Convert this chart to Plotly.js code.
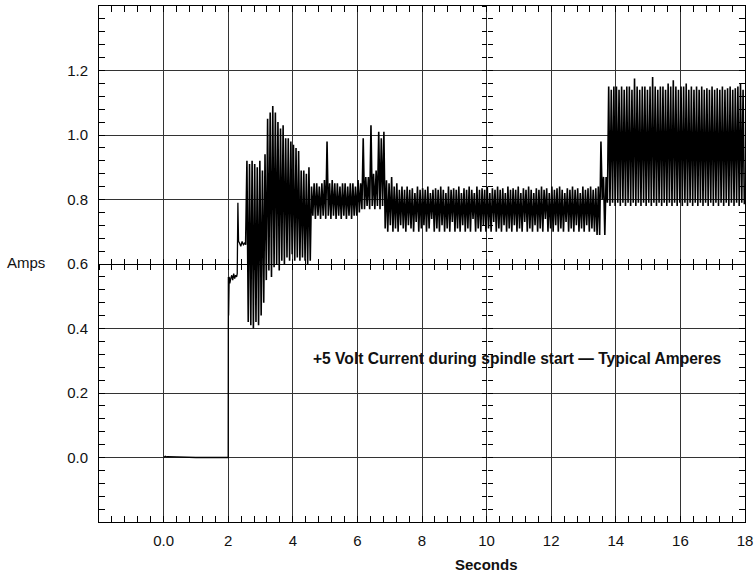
<!DOCTYPE html>
<html>
<head>
<meta charset="utf-8">
<script src="https://cdn.plot.ly/plotly-3.0.1.min.js"></script>
<style>html,body{margin:0;padding:0;background:#fff;}#chart{width:755px;height:575px;}</style>
</head>
<body>
<div id="chart"></div>
<script>
// ---- data ----
// start-up portion (seconds, amps)
const startTime = [0, 0.05, 0.08, 0.12, 1.0, 2.0, 2.005, 2.012, 2.03, 2.05, 2.08, 2.11, 2.14, 2.17, 2.2, 2.23, 2.26, 2.28, 2.30, 2.32, 2.35, 2.39, 2.43, 2.47, 2.51, 2.54];
const startAmps = [0.0, 0.004, 0.002, 0.003, 0.0, 0.0, 0.56, 0.44, 0.56, 0.54, 0.555, 0.565, 0.55, 0.57, 0.555, 0.565, 0.56, 0.57, 0.79, 0.67, 0.665, 0.655, 0.67, 0.66, 0.665, 0.66];

// sampled portion: first sample at sampleStart, one sample every sampleStep seconds
const sampleStart = 2.54;
const sampleStep = 0.04;
const plateauAmps = [0.66];
const rampAmps = [
  0.92,0.42,0.91,0.41,0.92,0.40,0.91,0.42,0.90,0.41,
  0.92,0.44,0.89,0.48,0.94,0.55,1.05,0.58,1.07,0.56,
  1.09,0.59,1.07,0.60,1.04,0.58,1.02,0.61,1.03,0.60,
  0.99,0.62,0.99,0.61,0.98,0.63,0.97,0.61,0.96,0.62,
  0.95,0.61,0.89,0.62,0.89,0.61,0.88,0.60,0.90,0.61];
const settleAmps = [
  0.84,0.75,0.85,0.74,0.85,0.75,0.84,0.74,0.85,0.75,
  0.86,0.74,0.98,0.75,0.85,0.74,0.86,0.75,0.85,0.74,
  0.85,0.75,0.84,0.74,0.85,0.75,0.85,0.74,0.84,0.75,
  0.85,0.74,0.85,0.75,0.84,0.75,0.86,0.76,0.85,0.77,
  0.99,0.77,0.87,0.78,0.87,0.77,1.03,0.78,0.88,0.77,
  0.89,0.78,1.01,0.77,0.99,0.78,1.01];
const steadyAmps = [
  0.71,0.86,0.70,0.85,0.72,0.87,0.70,0.84,0.71,0.85,
  0.70,0.83,0.72,0.84,0.71,0.83,0.70,0.84,0.72,0.83,
  0.71,0.835,0.70,0.82,0.73,0.84,0.70,0.83,0.71,0.835,
  0.72,0.83,0.70,0.84,0.71,0.82,0.74,0.83,0.70,0.835,
  0.71,0.83,0.70,0.84,0.72,0.83,0.70,0.82,0.71,0.84,
  0.70,0.83,0.73,0.835,0.70,0.83,0.71,0.84,0.70,0.82,
  0.72,0.835,0.70,0.83,0.71,0.84,0.70,0.83,0.74,0.82,
  0.70,0.84,0.71,0.83,0.70,0.835,0.72,0.83,0.70,0.84,
  0.71,0.82,0.70,0.835,0.73,0.83,0.70,0.84,0.71,0.83,
  0.70,0.835,0.72,0.82,0.70,0.84,0.71,0.83,0.70,0.835,
  0.72,0.83,0.70,0.84,0.71,0.82,0.70,0.835,0.73,0.83,
  0.70,0.84,0.71,0.83,0.70,0.82,0.72,0.835,0.70,0.83,
  0.71,0.84,0.70,0.83,0.74,0.835,0.70,0.82,0.71,0.84,
  0.70,0.83,0.72,0.835,0.70,0.84,0.71,0.83,0.70,0.82,
  0.73,0.835,0.70,0.83,0.71,0.84,0.70,0.83,0.72,0.835,
  0.70,0.82,0.71,0.84,0.70,0.83,0.72,0.835,0.70,0.84,
  0.71,0.83,0.70,0.835,0.69,0.84,0.69,0.98,0.80,0.87,
  0.69,0.87];
const highAmps = [
  0.79,1.15,0.78,1.14,0.79,1.15,0.78,1.15,0.79,1.14,
  0.78,1.15,0.79,1.14,0.78,1.15,0.79,1.15,0.78,1.14,
  0.79,1.175,0.78,1.15,0.79,1.14,0.78,1.15,0.79,1.15,
  0.78,1.14,0.79,1.15,0.78,1.18,0.79,1.15,0.78,1.14,
  0.79,1.15,0.78,1.15,0.79,1.14,0.78,1.16,0.79,1.15,
  0.78,1.17,0.79,1.15,0.78,1.14,0.79,1.15,0.78,1.15,
  0.79,1.16,0.78,1.14,0.79,1.15,0.78,1.14,0.79,1.15,
  0.78,1.14,0.79,1.15,0.78,1.14,0.79,1.145,0.78,1.14,
  0.79,1.15,0.78,1.14,0.79,1.145,0.78,1.14,0.79,1.15,
  0.78,1.14,0.79,1.145,0.78,1.15,0.79,1.14,0.78,1.145,
  0.79,1.15,0.78,1.16,0.79,1.14,0.785];

// tick labels
const xTickVals = [0, 2, 4, 6, 8, 10, 12, 14, 16, 18];
const xTickText = ['0.0', '2', '4', '6', '8', '10', '12', '14', '16', '18'];
const yTickVals = [0, 0.2, 0.4, 0.6, 0.8, 1.0, 1.2];
const yTickText = ['0.0', '0.2', '0.4', '0.6', '0.8', '1.0', '1.2'];

const titleText = '+5 Volt Current during spindle start \u2014 Typical Amperes';
const xTitle = 'Seconds';
const yTitle = 'Amps';

// ---- chart ----
const FONT = 'Liberation Sans, Arial, Helvetica, sans-serif';
const sampledAmps = plateauAmps.concat(rampAmps, settleAmps, steadyAmps, highAmps);

const traces = [
  {type: 'scatter', mode: 'lines', x: startTime, y: startAmps, line: {color: '#000', width: 1.3}, hoverinfo: 'skip', showlegend: false},
  {type: 'scatter', mode: 'lines', x0: sampleStart, dx: sampleStep, y: sampledAmps, line: {color: '#000', width: 1.6}, hoverinfo: 'skip', showlegend: false},
  // carrier traces so the centre axes get drawn
  {type: 'scatter', mode: 'lines', x: [null], y: [null], xaxis: 'x2', yaxis: 'y', showlegend: false, hoverinfo: 'skip'},
  {type: 'scatter', mode: 'lines', x: [null], y: [null], xaxis: 'x3', yaxis: 'y', showlegend: false, hoverinfo: 'skip'},
  {type: 'scatter', mode: 'lines', x: [null], y: [null], xaxis: 'x', yaxis: 'y2', showlegend: false, hoverinfo: 'skip'},
  {type: 'scatter', mode: 'lines', x: [null], y: [null], xaxis: 'x', yaxis: 'y3', showlegend: false, hoverinfo: 'skip'}
];

const XR = [-2, 18], YR = [-0.2, 1.4];
const tickFont = {family: FONT, size: 15, color: '#111'};

function centreX(dir, line) {
  return {overlaying: 'x', anchor: 'free', position: 0.5, range: XR, showline: line, linecolor: '#000', linewidth: 1,
    ticks: dir, ticklen: 0, tickvals: [], showticklabels: false, showgrid: false, zeroline: false,
    minor: {tickmode: 'linear', tick0: 0, dtick: 0.4, ticks: dir, ticklen: 5, tickcolor: '#000', tickwidth: 1, showgrid: false}};
}
function centreY(dir, line) {
  return {overlaying: 'y', anchor: 'free', position: 0.6, range: YR, showline: line, linecolor: '#000', linewidth: 1,
    ticks: dir, ticklen: 0, tickvals: [], showticklabels: false, showgrid: false, zeroline: false,
    minor: {tickmode: 'linear', tick0: 0, dtick: 0.04, ticks: dir, ticklen: 5, tickcolor: '#000', tickwidth: 1, showgrid: false}};
}

const layout = {
  width: 755, height: 575,
  margin: {l: 99, r: 10, t: 6, b: 53, pad: 0},
  paper_bgcolor: '#fff', plot_bgcolor: '#fff',
  showlegend: false,
  xaxis: {
    range: XR, tickmode: 'array', tickvals: xTickVals, ticktext: xTickText,
    ticks: 'inside', ticklen: 6, tickcolor: '#000', tickwidth: 1,
    showline: true, linecolor: '#000', linewidth: 1, mirror: 'allticks',
    showgrid: true, gridcolor: '#333', gridwidth: 1, zeroline: false,
    tickfont: tickFont, ticklabelstandoff: 5,
    minor: {tickmode: 'linear', tick0: 0, dtick: 0.4, ticks: 'inside', ticklen: 6, tickcolor: '#000', tickwidth: 1, showgrid: false}
  },
  yaxis: {
    range: YR, tickmode: 'array', tickvals: yTickVals, ticktext: yTickText,
    ticks: 'inside', ticklen: 6, tickcolor: '#000', tickwidth: 1,
    showline: true, linecolor: '#000', linewidth: 1, mirror: 'allticks',
    showgrid: true, gridcolor: '#333', gridwidth: 1, zeroline: false,
    tickfont: tickFont, ticklabelstandoff: 7,
    minor: {tickmode: 'linear', tick0: 0, dtick: 0.04, ticks: 'inside', ticklen: 6, tickcolor: '#000', tickwidth: 1, showgrid: false}
  },
  xaxis2: centreX('inside', true),
  xaxis3: centreX('outside', false),
  yaxis2: centreY('inside', false),
  yaxis3: centreY('outside', false),
  annotations: [
    {text: '<b>' + titleText + '</b>', xref: 'paper', yref: 'paper', x: 0.648, y: 0.316, xanchor: 'center', yanchor: 'middle',
     showarrow: false, font: {family: FONT, size: 15.6, color: '#111'}},
    {text: '<b>' + xTitle + '</b>', xref: 'paper', yref: 'paper', x: 0.6006, y: -0.0833, xanchor: 'center', yanchor: 'middle',
     showarrow: false, font: {family: FONT, size: 15, color: '#111'}},
    {text: yTitle, xref: 'paper', yref: 'paper', x: -0.113, y: 0.502, xanchor: 'center', yanchor: 'middle',
     showarrow: false, font: {family: FONT, size: 15, color: '#111'}}
  ]
};

Plotly.newPlot('chart', traces, layout, {displayModeBar: false, staticPlot: true});
</script>
</body>
</html>
